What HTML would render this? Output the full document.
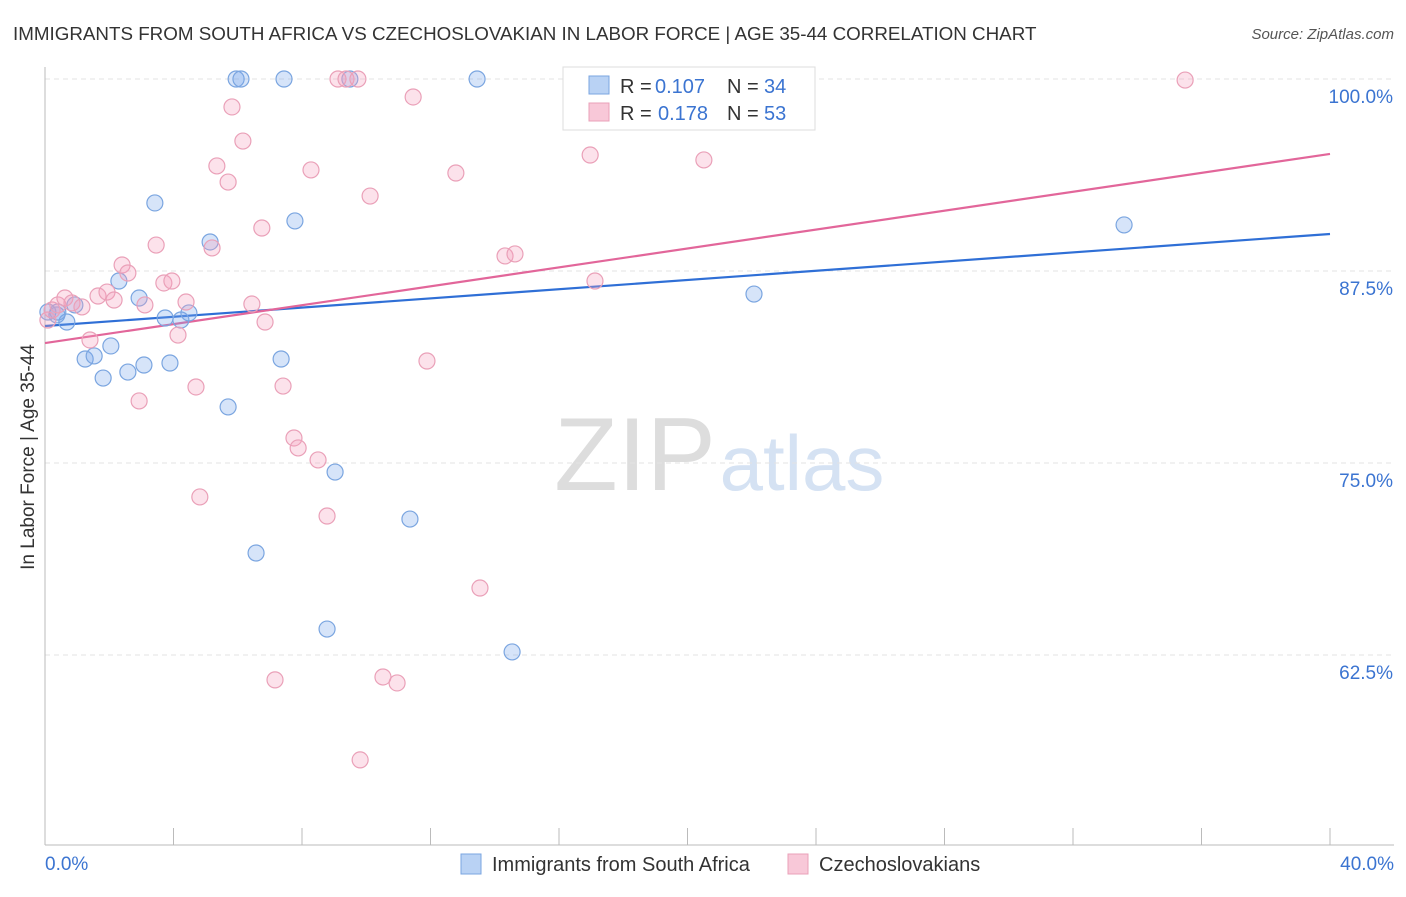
<!DOCTYPE html>
<html><head><meta charset="utf-8"><style>
body{margin:0;background:#fff;font-family:"Liberation Sans",sans-serif;}
svg text{font-family:"Liberation Sans",sans-serif;}
</style></head><body>
<svg id="chart" width="1406" height="892" xmlns="http://www.w3.org/2000/svg">
<text x="13" y="40" font-size="18.8" fill="#333">IMMIGRANTS FROM SOUTH AFRICA VS CZECHOSLOVAKIAN IN LABOR FORCE | AGE 35-44 CORRELATION CHART</text>
<text x="1394" y="39" font-size="15" fill="#555" font-style="italic" text-anchor="end">Source: ZipAtlas.com</text>
<text transform="translate(34,457) rotate(-90)" font-size="19" fill="#333" text-anchor="middle">In Labor Force | Age 35-44</text>
<g>
<text x="635" y="490" font-size="104" fill="#ddd" font-family="Liberation Serif" text-anchor="middle">ZIP</text>
<text x="802" y="490" font-size="78" fill="#d5e2f3" text-anchor="middle">atlas</text>
</g>
<g id="grid"></g><g id="axes"></g><g id="lines"></g><g id="pts"></g>
<g>
<rect x="563" y="67" width="252" height="63" fill="#fff" stroke="#ddd"/>
<rect x="589" y="76" width="20" height="18" fill="#b9d2f4" stroke="#7aa5e0"/>
<text x="620" y="93" font-size="20" fill="#333">R = </text>
<text x="655" y="93" font-size="20" fill="#3b74d1">0.107</text>
<text x="727" y="93" font-size="20" fill="#333">N = </text>
<text x="764" y="93" font-size="20" fill="#3b74d1">34</text>
<rect x="589" y="103" width="20" height="18" fill="#f8c8d8" stroke="#eaa0b8"/>
<text x="620" y="120" font-size="20" fill="#333">R = </text>
<text x="658" y="120" font-size="20" fill="#3b74d1">0.178</text>
<text x="727" y="120" font-size="20" fill="#333">N = </text>
<text x="764" y="120" font-size="20" fill="#3b74d1">53</text>
</g>
<g>
<rect x="461" y="854" width="20" height="20" fill="#b9d2f4" stroke="#7aa5e0"/>
<text x="492" y="871" font-size="20" fill="#333">Immigrants from South Africa</text>
<rect x="788" y="854" width="20" height="20" fill="#f8c8d8" stroke="#eaa0b8"/>
<text x="819" y="871" font-size="20" fill="#333">Czechoslovakians</text>
</g>
</svg>
<script>
const xTicks=[0,4,8,12,16,20,24,28,32,36,40];
const yTicks=[62.5,75,87.5,100];
const yTickLabels=["62.5%","75.0%","87.5%","100.0%"];
const blueX=[0.09,0.37,0.68,0.93,1.25,1.53,1.81,2.05,2.30,2.58,2.93,3.08,3.42,3.74,3.89,4.23,4.48,5.14,5.70,5.95,6.10,6.57,7.35,7.44,7.78,8.78,9.03,9.49,11.36,13.45,14.54,22.07,33.59,0.40];
const blueY=[84.83,84.64,84.18,85.29,81.77,81.97,80.53,82.62,86.85,80.92,85.74,81.38,91.93,84.44,81.51,84.31,84.77,89.39,78.65,100,100,69.14,81.77,100,90.76,64.19,74.41,100,71.35,100,62.70,86.00,90.50,84.83];
const pinkX=[0.09,0.22,0.40,0.62,0.84,1.15,1.40,1.65,1.93,2.15,2.40,2.58,2.93,3.11,3.46,3.70,3.95,4.14,4.39,4.70,4.82,5.20,5.35,5.70,5.82,6.16,6.44,6.75,6.85,7.16,7.41,7.75,7.88,8.28,8.50,8.78,9.12,9.37,9.74,9.81,10.12,10.52,10.96,11.46,11.89,12.79,13.54,14.32,14.63,16.59,16.97,17.12,20.51,35.49];
const pinkY=[84.31,84.96,85.29,85.74,85.42,85.16,83.01,85.87,86.13,85.61,87.89,87.37,79.04,85.29,89.19,86.72,86.85,83.33,85.48,79.95,72.79,89.00,94.34,93.29,98.18,95.96,85.35,90.30,84.18,60.88,80.01,76.63,75.98,94.08,75.20,71.55,100,100,100,55.67,92.38,61.07,60.68,98.83,81.64,93.88,66.86,88.48,88.61,100,95.05,86.85,94.73,99.93];
const blueTrend=[83.92,89.91];
const pinkTrend=[82.81,95.12];
const NS="http://www.w3.org/2000/svg";
const X0=45,X1=1330,YTOP=79,PX=192/12.5;
const sx=v=>X0+(v/40)*(X1-X0);
const sy=v=>YTOP+(100-v)*PX;
function mk(p,t,a){const e=document.createElementNS(NS,t);for(const k in a)e.setAttribute(k,a[k]);document.getElementById(p).appendChild(e);return e;}
yTicks.forEach((t,i)=>{
 const l=mk('grid','line',{x1:X0,x2:1394,y1:sy(t),y2:sy(t),stroke:'#e3e3e3','stroke-dasharray':'5,4'});
 
 
 const tx=mk('grid','text',{x:1393,y:sy(t)+24,'font-size':19,fill:'#3b74d1','text-anchor':'end'});
 tx.textContent=yTickLabels[i];
 
 
});
const ax=mk('axes','line',{x1:X0,x2:1394,y1:845,y2:845,stroke:'#bbb'});


const ay=mk('axes','line',{x1:X0,x2:X0,y1:67,y2:845,stroke:'#bbb'});


xTicks.forEach(t=>{
 const l=mk('axes','line',{x1:sx(t),x2:sx(t),y1:828,y2:845,stroke:'#bbb'});
 
 
});
const l0=mk('axes','text',{x:45,y:870,'font-size':19,fill:'#3b74d1'});l0.textContent='0.0%';


const l1=mk('axes','text',{x:1394,y:870,'font-size':19,fill:'#3b74d1','text-anchor':'end'});l1.textContent='40.0%';


function pts(xs,ys,fill,stroke,name){xs.forEach((x,i)=>{
 const c=mk('pts','circle',{cx:sx(x),cy:sy(ys[i]),r:8,fill:fill,stroke:stroke,'stroke-width':1.2});
 
 
});}
pts(blueX,blueY,'rgba(120,165,235,0.3)','#7aa5e0','point-south-africa');
pts(pinkX,pinkY,'rgba(245,160,190,0.3)','#eaa0b8','point-czechoslovakian');
const bl=mk('lines','line',{x1:sx(0),y1:sy(blueTrend[0]),x2:sx(40),y2:sy(blueTrend[1]),stroke:'#2f6fd6','stroke-width':2.2});


const pl=mk('lines','line',{x1:sx(0),y1:sy(pinkTrend[0]),x2:sx(40),y2:sy(pinkTrend[1]),stroke:'#e2669a','stroke-width':2.2});


</script>
</body></html>
